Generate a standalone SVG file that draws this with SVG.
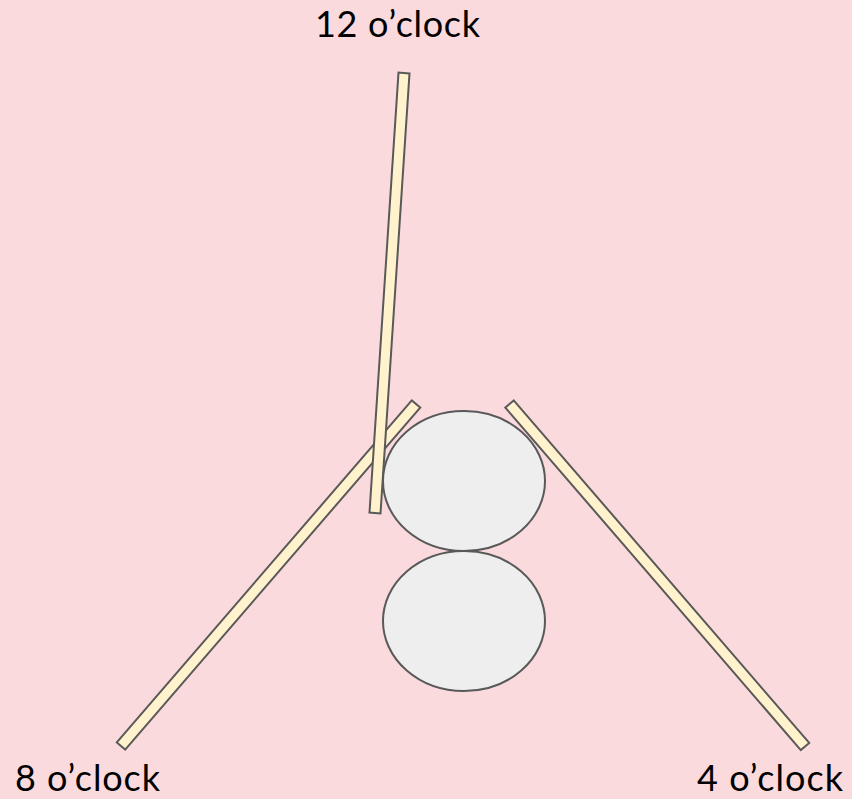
<svg xmlns="http://www.w3.org/2000/svg" width="852" height="799" viewBox="0 0 852 799">
<style>
.stick{fill:#FFF2CC;stroke:#595959;stroke-width:2;stroke-linejoin:miter}
.ball{fill:#EEEEEE;stroke:#595959;stroke-width:2}
.lbl{font-family:Lato,"Noto Sans","Liberation Sans",sans-serif;font-size:36px;fill:#000;text-anchor:middle}
</style>
<rect width="852" height="799" fill="#FADADD"/>
<g id="stick-8">
<polygon class="stick" points="420.2,407.6 411.8,400.4 116.8,742.4 125.2,749.6"/>
</g>
<g id="stick-4">
<polygon class="stick" points="513.7,400.4 505.3,407.6 800.8,750.1 809.2,742.9"/>
</g>
<g id="stick-12">
<polygon class="stick" points="409.5,73.4 398.5,72.6 369.5,512.6 380.5,513.4"/>
</g>
<g id="ball-top">
<ellipse class="ball" cx="464" cy="481" rx="81" ry="70"/>
</g>
<g id="ball-bottom">
<ellipse class="ball" cx="464" cy="621" rx="81" ry="70"/>
</g>
<g id="labels">
<text class="lbl" x="397.5" y="37" textLength="165" lengthAdjust="spacing">12 o’clock</text>
<text class="lbl" x="87.5" y="791" textLength="145" lengthAdjust="spacing">8 o’clock</text>
<text class="lbl" x="770" y="791" textLength="146" lengthAdjust="spacing">4 o’clock</text>
</g>
<g id="connectors"/>
</svg>
